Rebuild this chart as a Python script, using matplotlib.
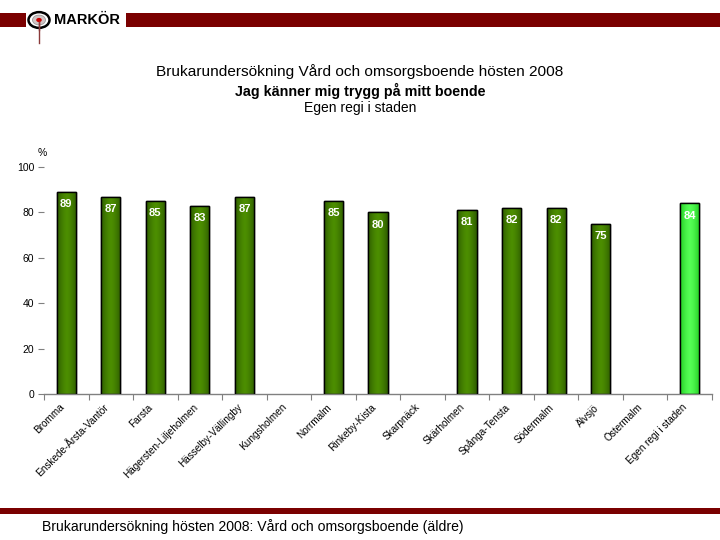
import numpy as np
import matplotlib
matplotlib.use("Agg")
import matplotlib.pyplot as plt
from matplotlib.patches import Rectangle, Circle
from matplotlib.lines import Line2D
from matplotlib.transforms import ScaledTranslation

categories = ["Bromma", "Enskede-Årsta-Vantör", "Farsta", "Hägersten-Liljeholmen",
              "Hässelby-Vällingby", "Kungsholmen", "Norrmalm", "Rinkeby-Kista",
              "Skarpnäck", "Skärholmen", "Spånga-Tensta", "Södermalm", "Älvsjö",
              "Östermalm", "Egen regi i staden"]
values = [89, 87, 85, 83, 87, np.nan, 85, 80, np.nan, 81, 82, 82, 75, np.nan, 84]
yticks = [0, 20, 40, 60, 80, 100]

title1 = "Brukarundersökning Vård och omsorgsboende hösten 2008"
title2 = "Jag känner mig trygg på mitt boende"
title3 = "Egen regi i staden"
footer = "Brukarundersökning hösten 2008: Vård och omsorgsboende (äldre)"

plt.rcParams['font.family'] = ['Liberation Sans', 'DejaVu Sans']

fig = plt.figure(figsize=(7.2, 5.4), dpi=100)
W, H = 720, 540

def fx(px): return px / W
def fy(py): return 1 - py / H

# header band
fig.add_artist(Rectangle((0, fy(27)), 1, (27 - 13) / H, transform=fig.transFigure,
                         facecolor="#7a0000", edgecolor="none"))
fig.add_artist(Rectangle((fx(26), fy(31)), (126 - 26) / W, (31 - 8) / H, transform=fig.transFigure,
                         facecolor="white", edgecolor="none"))
fig.text(fx(54), fy(20), "MARKÖR", fontsize=10.5, fontweight="bold", color="black",
         va="center", ha="left")
# logo
fig.add_artist(Line2D([fx(39), fx(39)], [fy(22), fy(43)], transform=fig.transFigure,
                      color="#8a3a3a", lw=1))
fig.add_artist(Circle((fx(39), fy(20)), 10.5 / W, transform=fig.transFigure,
                      facecolor="white", edgecolor="black", lw=1.8))
fig.add_artist(Circle((fx(39), fy(20)), 6.5 / W, transform=fig.transFigure,
                      facecolor="#d0c4c4", edgecolor="#999999", lw=0.6))
fig.add_artist(Circle((fx(39), fy(20)), 2.8 / W, transform=fig.transFigure,
                      facecolor="#cc0000", edgecolor="none"))
fig.add_artist(Line2D([fx(39), fx(39)], [fy(22), fy(30)], transform=fig.transFigure,
                      color="#8a3a3a", lw=1))

# footer
fig.add_artist(Rectangle((0, fy(514)), 1, 6 / H, transform=fig.transFigure,
                         facecolor="#7a0000", edgecolor="none"))
fig.text(fx(42), fy(527), footer, fontsize=10.1, va="center", ha="left")

# titles
fig.text(0.5, fy(72), title1, fontsize=11.1, ha="center", va="center")
fig.text(0.5, fy(91), title2, fontsize=10.3, ha="center", va="center", fontweight="bold")
fig.text(0.5, fy(108), title3, fontsize=10, ha="center", va="center")

ax = fig.add_axes([fx(44), fy(394), (712 - 44) / W, (394 - 167) / H])
x = np.arange(len(categories))

grad = np.abs(np.linspace(-1, 1, 64))
def make_grad(c_center, c_edge):
    cc = np.array(matplotlib.colors.to_rgb(c_center))
    ce = np.array(matplotlib.colors.to_rgb(c_edge))
    t = grad[None, :, None] ** 1.5
    return cc * (1 - t) + ce * t

g_dark = make_grad("#4c8e00", "#2e5c00")
g_light = make_grad("#55ff55", "#22cc22")

bw = 0.43
for i, v in enumerate(values):
    if np.isnan(v):
        continue
    last = (i == len(values) - 1)
    bar = ax.bar(x[i], v, width=bw, facecolor="#3f7a00", edgecolor="black", lw=1.0, zorder=2)[0]
    im = ax.imshow(g_light if last else g_dark, extent=(x[i] - bw / 2, x[i] + bw / 2, 0, v),
                   aspect="auto", zorder=2.5, interpolation="bilinear")
    im.set_clip_path(bar)
    ax.add_patch(Rectangle((x[i] - bw / 2, 0), bw, v, facecolor="none", edgecolor="black",
                           lw=1.0, zorder=3))
    ax.text(x[i], v - 3.2, f"{int(v)}", ha="center", va="top", color="white",
            fontsize=8, fontweight="bold", zorder=4)

ax.set_xlim(-0.5, len(categories) - 0.5)
ax.set_ylim(0, 100)

for s in ["top", "right", "left"]:
    ax.spines[s].set_visible(False)
ax.spines["bottom"].set_color("#808080")
ax.spines["bottom"].set_linewidth(1.0)

ax.set_yticks(yticks)
ax.set_yticklabels([str(t) for t in yticks], fontsize=7.5)
ax.tick_params(axis="y", length=4, width=0.8, color="#808080", pad=3)

# category labels as rotated texts
ax.set_xticks(np.arange(-0.5, len(categories), 1))
ax.set_xticklabels([])
ax.tick_params(axis="x", length=4, color="#808080", direction="out")
lab_tr = ax.get_xaxis_transform() + ScaledTranslation(-0.075, -0.08, fig.dpi_scale_trans)
for i, c in enumerate(categories):
    ax.text(x[i], 0, c, transform=lab_tr, rotation=45, ha="right", va="top",
            rotation_mode="anchor", fontsize=7.2, clip_on=False)

fig.text(fx(42), fy(153), "%", fontsize=7.5, ha="center", va="center")

fig.savefig("out.png", dpi=100)
